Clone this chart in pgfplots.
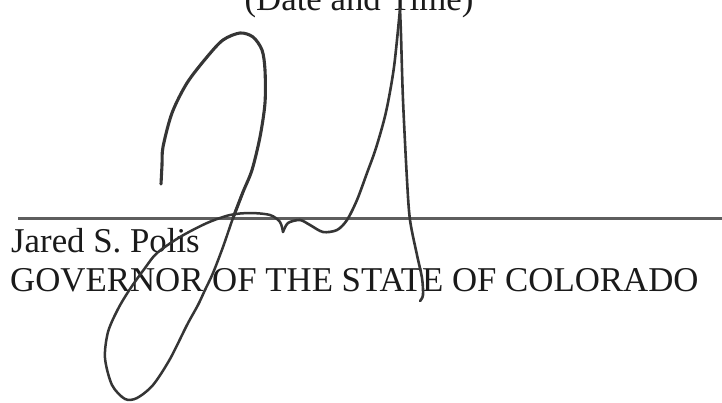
\documentclass[border=0pt]{standalone}
\usepackage{pgfplots}
\pgfplotsset{compat=1.18}
\usepackage{fontspec}
\setmainfont{Liberation Serif}
\definecolor{ink}{HTML}{353535}
\definecolor{txt}{HTML}{1A1A1A}
\definecolor{rule}{HTML}{5E5E5E}
\begin{document}
\begin{tikzpicture}
\clip (0,0) rectangle (722pt,402pt);
\begin{axis}[
  at={(0,0)}, anchor=south west,
  width=722pt, height=402pt, scale only axis,
  xmin=0, xmax=722, ymin=0, ymax=402, y dir=reverse,
  hide axis, clip=false,
]
% signature rule
\addplot[rule, line width=2.1pt] coordinates {(18,218.5) (722,218.5)};
% text
\node[anchor=base, inner sep=0pt, text=txt, font=\fontsize{34.8}{40}\selectfont] at (axis cs:359,10) {(Date and Time)};
\node[anchor=base west, inner sep=0pt, text=txt, font=\fontsize{34.8}{40}\selectfont] at (axis cs:11,252) {Jared S. Polis};
\node[anchor=base west, inner sep=0pt, text=txt, font=\fontsize{34.8}{40}\selectfont] at (axis cs:10,291) {GOVERNOR OF THE STATE OF COLORADO};
% signature strokes
\addplot[ink, line width=3.1pt, smooth, line cap=round, line join=round] coordinates {
(161,184) (162,165) (163,147) (172,113) (187,83) (207,57) (223,40) (240,33) (253,37) (262,50) (265,70) (265,103) (260,137) (252,170) (243,192) (233,218)
};
\addplot[ink, line width=2.5pt, smooth, line cap=round, line join=round] coordinates {
(243,192) (233,218) (223,247) (213,273) (205,290) (198,305) (187,325) (170,359) (153,385) (137,398) (125,399) (112,385) (105,358) (108,332) (118,309) (130,289) (145,268) (157,253) (180,237) (207,223) (230,215) (250,213) (270,215) (280,222) (283,232)
};
\addplot[ink, line width=2.6pt, smooth, line cap=round, line join=round] coordinates {
(283,232) (288,223) (300,220) (310,225) (323,232) (337,230) (347,220) (357,200) (367,173) (376,148) (386,112) (394,67) (400,9)
};
\addplot[ink, line width=2.6pt, smooth, line cap=round, line join=round] coordinates {
(400,9) (401,35) (403,100) (407,180) (410,220) (417,255) (422,278) (423,295) (420,301)
};
\end{axis}
\end{tikzpicture}
\end{document}
